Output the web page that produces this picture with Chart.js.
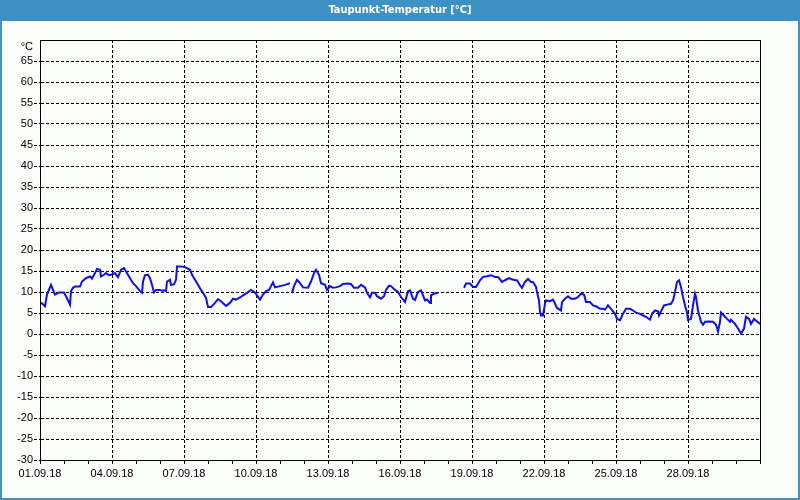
<!DOCTYPE html>
<html>
<head>
<meta charset="utf-8">
<script src="https://cdn.jsdelivr.net/npm/chart.js@4/dist/chart.umd.min.js"></script>
<style>
html,body{margin:0;padding:0;background:#fbfdfb;}
canvas{display:block;}
</style>
</head>
<body>
<canvas id="c" width="800" height="500"></canvas>
<script>
// hours since 01.09.18 00:00
const hours = [1,5,7,11,13,15,19,24,26,30,31,33,35,40,42,46,50,52,55,57,60,61,64,66,69,71,75,78,81,84,86,90,93,96,100,102,103,105,108,110,112,114,116,120,122,124,126,127,130,131,134,136,137,141,145,150,152,155,158,161,163,166,168,171,175,178,181,186,190,193,196,200,203,207,211,215,217,220,223,226,229,231,233,235,240,245,250,251,252,254,257,260,263,268,271,274,276,279,281,285,287,290,293,296,300,303,308,311,314,318,321,325,327,330,332,335,337,341,344,346,349,351,355,358,361,365,368,370,373,375,378,381,383,385,387,390,391,394,398,399,424,426,430,433,436,440,443,446,451,455,458,462,465,469,471,475,477,480,482,485,488,491,493,496,497,499,500,501,503,505,506,510,513,515,517,521,522,525,528,531,535,538,541,544,546,550,553,556,560,563,565,568,571,575,577,580,583,586,590,593,596,600,603,606,610,612,615,618,619,621,624,627,631,633,635,637,639,641,643,645,647,648,651,653,655,656,658,661,663,665,669,673,676,678,680,681,685,687,690,691,695,698,701,704,706,709,711,714,717,720];
// dew point in °C (null = no data)
const dewPoint = [7.5,6.6,9.4,11.7,10.5,9.4,9.9,9.9,9.0,7.0,10.2,11.0,11.3,11.3,12.5,13.3,13.7,13.2,14.5,15.5,15.3,13.7,14.1,14.5,14.0,14.1,14.5,13.5,15.3,15.7,14.9,13.3,12.1,11.4,10.2,9.8,12.5,14.0,14.1,13.3,11.7,9.9,10.5,10.5,10.3,10.4,10.2,12.5,12.9,11.7,11.8,12.9,16.1,16.1,15.9,15.3,14.1,12.9,11.7,10.5,9.8,8.6,6.4,6.4,7.4,8.3,7.8,6.7,7.4,8.4,8.2,8.7,9.2,9.8,10.5,9.9,9.2,8.2,9.4,10.2,10.5,11.4,12.3,11.1,11.4,11.7,12.1,null,9.8,11.4,12.9,12.1,11.1,11.0,12.5,14.5,15.3,14.1,12.1,11.7,10.5,11.4,11.0,11.1,11.4,11.9,12.0,11.9,11.0,11.0,11.7,11.1,9.8,8.7,9.8,9.8,9.0,8.4,9.0,10.5,11.5,11.4,10.5,10.0,8.8,7.6,10.2,10.4,8.4,8.1,10.0,10.4,9.2,8.0,8.2,7.4,9.2,9.6,9.8,null,11.0,12.0,12.0,11.2,11.2,12.8,13.6,13.7,14.0,13.6,13.6,12.4,12.8,13.3,13.1,12.8,12.8,11.6,11.0,12.4,13.1,12.4,12.4,11.2,10.0,8.0,5.2,4.4,4.4,7.2,8.0,7.8,8.2,7.2,6.2,5.6,7.6,8.4,9.0,8.4,8.4,8.8,9.6,9.4,7.6,7.6,6.8,6.6,6.0,6.0,5.8,6.8,6.0,4.8,3.6,3.3,4.8,6.0,6.0,5.6,5.1,4.8,4.4,4.1,3.4,4.8,5.6,5.4,4.4,5.4,6.8,7.0,7.2,8.0,10.0,12.4,12.8,11.2,8.8,6.8,5.2,3.3,3.6,6.8,9.6,8.8,5.6,2.9,2.2,2.9,3.0,2.9,2.2,0.6,2.9,5.1,4.1,3.6,2.9,3.4,2.4,1.3,0.1,1.3,4.1,3.6,2.4,3.6,3.0,2.4];
const dateLabels = ['01.09.18','04.09.18','07.09.18','10.09.18','13.09.18','16.09.18','19.09.18','22.09.18','25.09.18','28.09.18'];
const titleText = 'Taupunkt-Temperatur [°C]';
const yUnitLabel = '°C';

const points = hours.map((h, i) => ({x: h, y: dewPoint[i]}));

const frame = {
  id: 'frame',
  beforeDraw(chart) {
    const c = chart.ctx;
    c.save();
    c.fillStyle = '#fbfdfb';
    c.fillRect(0, 0, 800, 500);
    c.fillStyle = '#3d91c4';
    c.fillRect(0, 0, 800, 21);
    c.fillRect(0, 0, 2, 500);
    c.fillRect(798, 0, 2, 500);
    c.fillRect(0, 498, 800, 2);
    c.restore();
  },
  afterDraw(chart) {
    const a = chart.chartArea, c = chart.ctx;
    c.save();
    c.strokeStyle = '#000';
    c.lineWidth = 1;
    c.strokeRect(Math.round(a.left) + 0.5, Math.round(a.top) + 0.5, Math.round(a.right - a.left), Math.round(a.bottom - a.top));
    c.restore();
  }
};

const tickFont = {family: "Tahoma, 'Liberation Sans', Arial, sans-serif", size: 11};

new Chart(document.getElementById('c'), {
  type: 'line',
  data: {
    datasets: [{
      data: points,
      borderColor: '#1010e8',
      borderWidth: 2,
      pointRadius: 0,
      tension: 0,
      spanGaps: false,
      fill: false
    }]
  },
  options: {
    responsive: false,
    animation: false,
    devicePixelRatio: 1,
    layout: {padding: 0},
    plugins: {
      legend: {display: false},
      tooltip: {enabled: false},
      title: {
        display: true,
        text: titleText,
        color: '#ffffff',
        font: {family: "'Liberation Sans Narrow', 'DejaVu Sans Condensed', 'Liberation Sans', sans-serif", size: 11, weight: 'bold', lineHeight: 1.2},
        padding: {top: 4, bottom: 22.8}
      }
    },
    scales: {
      x: {
        type: 'linear',
        min: 0,
        max: 720,
        afterFit(s) { s.height = 40; },
        ticks: {
          stepSize: 24,
          maxTicksLimit: 100,
          autoSkip: false,
          maxRotation: 0,
          minRotation: 0,
          padding: 3,
          color: '#000',
          font: tickFont,
          callback(v) { return (v % 72 === 0 && v / 72 < dateLabels.length) ? dateLabels[v / 72] : ''; }
        },
        grid: {
          color(ctx) {
            const v = ctx.tick && ctx.tick.value;
            return (v % 72 === 0 && v > 0 && v < 720) ? '#000' : 'rgba(0,0,0,0)';
          },
          tickColor: '#000',
          tickLength: 4,
          tickBorderDash: [],
          lineWidth: 1
        },
        border: {display: true, color: '#000', width: 1, dash: [3, 2]}
      },
      y: {
        type: 'linear',
        min: -30,
        max: 70,
        afterFit(s) { s.width = 40; },
        ticks: {
          stepSize: 5,
          maxTicksLimit: 100,
          autoSkip: false,
          padding: 1,
          color: '#000',
          font: tickFont,
          callback(v) { return v === 70 ? ['', yUnitLabel] : String(v); }
        },
        grid: {
          color(ctx) {
            const v = ctx.tick && ctx.tick.value;
            return (v > -30 && v < 70) ? '#000' : 'rgba(0,0,0,0)';
          },
          tickColor(ctx) {
            const v = ctx.tick && ctx.tick.value;
            return (v < 70) ? '#000' : 'rgba(0,0,0,0)';
          },
          tickLength: 6,
          tickBorderDash: [3, 2],
          lineWidth: 1
        },
        border: {display: true, color: '#000', width: 1, dash: [3, 2]}
      },
      yRight: {
        type: 'linear',
        position: 'right',
        display: true,
        min: -30,
        max: 70,
        afterFit(s) { s.width = 40; },
        ticks: {display: false},
        grid: {display: false, drawTicks: false},
        border: {display: false}
      }
    }
  },
  plugins: [frame]
});
</script>
</body>
</html>
